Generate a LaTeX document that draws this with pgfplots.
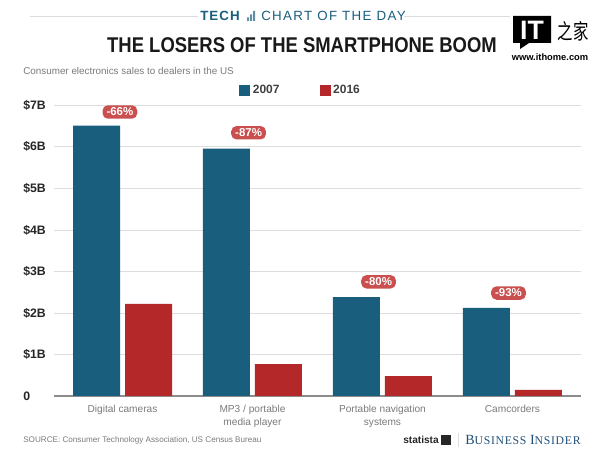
\documentclass[border=0pt]{standalone}
\usepackage{pgfplots}
\pgfplotsset{compat=1.18}
\usepackage{fontspec}
\setmainfont{Liberation Sans}
\newfontfamily\serif{Liberation Serif}
\newfontfamily\cjk{Noto Sans CJK SC}
\definecolor{tealbar}{HTML}{1A5E7E}
\definecolor{redbar}{HTML}{B5282A}
\definecolor{pill}{HTML}{C9504F}
\definecolor{gridc}{HTML}{DDDDDD}
\definecolor{greytxt}{HTML}{7A7A7A}
\definecolor{bi}{HTML}{1F4E79}
\begin{document}
\begin{tikzpicture}[x=0.75pt,y=-0.75pt]
\path[use as bounding box] (0,0) rectangle (600,452);

% header
\draw[gridc,line width=0.5pt] (30,16) -- (198,16);
\draw[gridc,line width=0.5pt] (404,16) -- (510,16);
\node[anchor=west,inner sep=0,text=tealbar] at (200,16) {\fontsize{10}{12}\selectfont\bfseries\addfontfeatures{LetterSpace=8}TECH};
\fill[tealbar!70] (247,17.5) rectangle (249,21) (250,14.5) rectangle (252,21) (253,11) rectangle (255,21);
\node[anchor=west,inner sep=0,text=tealbar] at (261,16) {\fontsize{10}{12}\selectfont\addfontfeatures{LetterSpace=10}CHART OF THE DAY};
\node[anchor=center,inner sep=0,xscale=0.865,text=black!90] at (302,45.5) {\fontsize{16}{20}\selectfont\bfseries THE LOSERS OF THE SMARTPHONE BOOM};
\node[anchor=west,inner sep=0,text=greytxt] at (23,71) {\fontsize{7.4}{10}\selectfont Consumer electronics sales to dealers in the US};

% logo
\fill[black] (513,16) rectangle (551,43) (520,43) -- (529,43) -- (520,49) -- cycle;
\node[text=white,inner sep=0] at (532,30) {\fontsize{20}{22}\selectfont\bfseries IT};
\node[inner sep=0,xscale=0.72] at (573,31) {\fontsize{16}{17}\selectfont\cjk 之家};
\node[inner sep=0] at (550,57) {\fontsize{7}{9}\selectfont\bfseries www.ithome.com};

\begin{axis}[
at={(40.5pt,-297pt)},anchor=south west,
scale only axis,
width=395.6pt,height=218pt,
xmin=-0.527,xmax=3.531,
ymin=0,ymax=7,
ybar,bar width=35.25pt,
ytick={1,2,3,4,5,6,7},
xtick={0,1,2,3},
yticklabels={},
xticklabels={Digital cameras,{MP3 / portable\\media player},{Portable navigation\\systems},Camcorders},
ymajorgrids,
grid style={gridc,line width=0.6pt},
axis x line*=bottom,
axis y line*=left,
y axis line style={draw=none},
x axis line style={draw=black!45,line width=0.8pt,-},
tick style={draw=none},
xticklabel style={text=greytxt,align=center,font=\fontsize{7.6}{9.8}\selectfont,yshift=1pt,anchor=north},
enlargelimits=false,
clip=false,
legend style={at={(0.343,1.052)},anchor=west,draw=none,fill=none,legend columns=2,
 /tikz/every even column/.append style={column sep=28pt},
 font=\fontsize{9}{11}\selectfont\bfseries\color{black!75}},
legend image code/.code={\fill[#1] (0pt,-4pt) rectangle (8.25pt,4.25pt);},
]
\addplot[fill=tealbar,draw=none,bar shift=-19.5pt] coordinates {(0,6.51) (1,5.96) (2,2.38) (3,2.12)};
\addplot[fill=redbar,draw=none,bar shift=19.5pt] coordinates {(0,2.22) (1,0.77) (2,0.48) (3,0.15)};
\legend{2007,2016}
\pgfplotsinvokeforeach{0,1,...,7}{
 \node[anchor=west,inner sep=0,text=black!85,font=\fontsize{9.2}{11}\selectfont\bfseries] at (axis cs:-0.765,#1) {\ifnum#1=0 0\else\$#1B\fi};
}
\tikzset{pillb/.style={fill=pill,rounded corners=4pt,text=white,inner xsep=3pt,inner ysep=2pt,font=\fontsize{8.6}{10}\selectfont\bfseries}}
\node[pillb] at (axis cs:-0.02,6.84) {-66\%};
\node[pillb] at (axis cs:0.97,6.34) {-87\%};
\node[pillb] at (axis cs:1.97,2.75) {-80\%};
\node[pillb] at (axis cs:2.97,2.48) {-93\%};
\end{axis}

% footer
\node[anchor=west,inner sep=0,text=greytxt] at (23,440) {\fontsize{6.1}{9}\selectfont SOURCE: Consumer Technology Association, US Census Bureau};
\node[anchor=west,inner sep=0,text=black!85] at (403,440) {\fontsize{7.6}{11}\selectfont\bfseries statista};
\fill[black!85] (441,435) -- (451,435) -- (451,445) -- (441,445) -- cycle;
\draw[gridc,line width=0.6pt] (458,433) -- (458,447);
\node[anchor=west,inner sep=0,text=bi] at (465,440) {\fontsize{10.5}{12}\selectfont\serif\addfontfeatures{LetterSpace=6}B\fontsize{8.8}{12}\selectfont USINESS \fontsize{10.5}{12}\selectfont I\fontsize{8.8}{12}\selectfont NSIDER};
\end{tikzpicture}
\end{document}
